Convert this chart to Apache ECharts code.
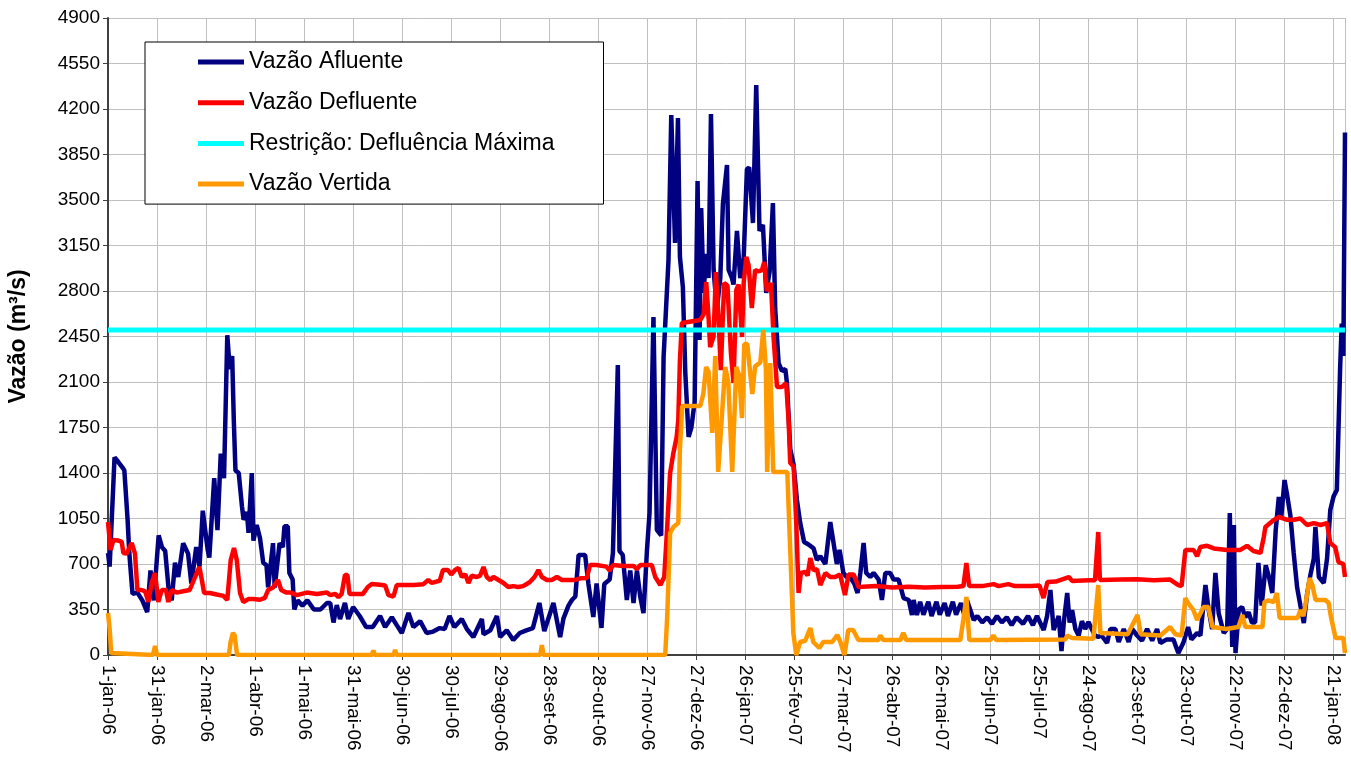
<!DOCTYPE html>
<html>
<head>
<meta charset="utf-8">
<script src="https://cdn.jsdelivr.net/npm/echarts@6/dist/echarts.min.js"></script>
<style>
html,body{margin:0;padding:0;background:#fff;}
#chart{width:1351px;height:779px;}
</style>
</head>
<body>
<div id="chart"></div>
<script>
// x values are days counted from 1-jan-06
const xTickLabels = ['1-jan-06','31-jan-06','2-mar-06','1-abr-06','1-mai-06','31-mai-06','30-jun-06','30-jul-06','29-ago-06','28-set-06','28-out-06','27-nov-06','27-dez-06','26-jan-07','25-fev-07','27-mar-07','26-abr-07','26-mai-07','25-jun-07','25-jul-07','24-ago-07','23-set-07','23-out-07','22-nov-07','22-dez-07','21-jan-08'];
const seriesNames = ['Vazão Afluente','Vazão Defluente','Restrição: Defluência Máxima','Vazão Vertida'];
const lastDay = 757;
const defluenciaMaxima = 2500;

const afluente = [
[0,785],[1,680],[4,1520],[6,1490],[9,1440],[10,1420],[12,1040],[13,790],[15,470],[18,480],[21,420],[24,330],[26,650],[28,420],[31,920],[33,830],[35,800],[37,520],[39,420],[41,710],[43,600],[46,860],[49,780],[51,550],[54,830],[56,680],[58,1110],[61,810],[62,750],[65,1360],[67,960],[69,1550],[71,1360],[73,2460],[74.5,2200],[76,2300],[77,1800],[78,1420],[80,1400],[82,1140],[83,1040],[85,1100],[86,940],[88,1400],[89,880],[91,1000],[93,900],[95,710],[97,690],[98,520],[101,860],[102,520],[105,860],[107,830],[108,990],[110,990],[111,630],[113,580],[114,350],[116,420],[119,380],[122,420],[126,350],[130,350],[134,400],[136,400],[138,250],[140,384],[142,277],[145,400],[147,277],[150,369],[154,300],[158,215],[162,215],[166.5,300],[169.6,215],[173.7,290],[176.7,230],[179.8,169],[183.9,323],[186.9,215],[191,260],[195,169],[199,180],[203,207],[206,200],[209,300],[212,215],[216.5,277],[219.6,200],[223.6,138],[228.8,277],[229.8,160],[234,190],[238,300],[240,138],[244,190],[248,115],[252,169],[256,190],[260,207],[264,400],[267,184],[270,300],[272.6,400],[276.7,138],[278.7,280],[281.8,380],[283.9,423],[286,450],[288,770],[292,770],[294,546],[297,292],[299,550],[302,208],[303.7,546],[307,580],[309,785],[310,800],[312,2231],[313,800],[315,770],[317.5,423],[319.6,650],[321.6,400],[323.7,650],[325.7,450],[327.7,323],[329.8,800],[331.4,1092],[333.8,2600],[335.9,962],[338.5,920],[340,2292],[341,2300],[343,3038],[344.7,4154],[347,3169],[348.8,4131],[350,3062],[351.8,2831],[353.3,2169],[355.3,1677],[357,1750],[359,1946],[360.8,3646],[362,2423],[363,3438],[364.5,2785],[366,3085],[367.5,2900],[369,4162],[370.6,2962],[372.6,2662],[374.7,2900],[376.3,3469],[378.8,3769],[379.8,2962],[381.8,2900],[382.8,2850],[384.9,3262],[386.9,2900],[389,3050],[391,3738],[392.4,3750],[394.7,3323],[396.7,4385],[398.7,3262],[400.8,3308],[402.8,2785],[404.9,2950],[406.9,3477],[408.3,2662],[410.4,2246],[412.4,2185],[414.5,2200],[415.5,2092],[417.5,1585],[419.5,1469],[421.6,1192],[423.6,1015],[426,869],[428.7,850],[431.8,820],[433.8,731],[435.9,760],[439,700],[442,1023],[444,862],[446,700],[447.7,808],[450,631],[452,600],[454,600],[456.7,550],[458.7,477],[460.4,631],[462.4,862],[464,631],[466.5,600],[468.5,631],[471.6,580],[473.6,423],[475.7,631],[478.7,631],[480.8,580],[483.8,580],[486.9,438],[490,423],[492,308],[493,423],[495,308],[497,410],[499,310],[502,410],[504,300],[507,410],[509,310],[512,400],[514,300],[517,410],[519,310],[522,400],[524,310],[525.7,420],[529.8,269],[532,300],[535,250],[538,290],[541,240],[544,300],[547,250],[550,290],[553,230],[556,290],[560,240],[563,300],[566,230],[568.5,300],[572.6,192],[574.7,300],[576.7,500],[578.7,192],[581.8,300],[583.5,30],[584.9,250],[587,477],[588.5,250],[590,346],[592,200],[594,150],[596,260],[598,200],[600,254],[602,200],[604,150],[606,140],[608,150],[611.4,92],[613.4,200],[616.5,200],[618.5,100],[621.6,200],[624.6,100],[626.7,200],[629.8,150],[632.8,110],[635.9,200],[639,110],[642,200],[644,92],[648,120],[652,120],[655,15],[658,92],[661,215],[663,120],[666.5,170],[668.5,150],[671.6,538],[673.6,346],[675.7,200],[677.7,631],[679.7,320],[682.8,169],[684.9,200],[686.5,1092],[688,62],[689,1000],[690,15],[692,350],[694,370],[696,290],[698,330],[700,250],[702,250],[704,708],[706,380],[708.5,690],[710.5,600],[712.5,477],[714.6,962],[716.5,1215],[718,1060],[720,1346],[721.6,1230],[723.6,1070],[725.6,785],[727.7,520],[729.7,380],[731.8,246],[733.8,470],[735.9,620],[737.9,740],[738.9,985],[741,600],[744,554],[746,740],[748,1115],[750,1220],[752,1269],[754,2200],[755,2550],[756,2300],[757,4020]
];

const defluente = [
[0,1023],[1.6,808],[3.3,885],[6.3,880],[8.4,870],[9.4,785],[11.4,780],[14.5,862],[16.5,780],[18,500],[20.6,500],[22.7,490],[24.7,408],[26.7,554],[28.8,631],[30.8,408],[32.9,500],[35.5,500],[36.9,408],[39,500],[42,480],[46,490],[50,500],[53.3,600],[55.9,677],[57.4,580],[58.8,477],[62.4,477],[66.5,465],[70.6,455],[73,423],[75.1,731],[77.1,823],[78.8,731],[80.8,477],[82.8,408],[85.9,430],[88.9,430],[93,425],[96,440],[98,500],[101,520],[104,577],[106,500],[109,480],[112,480],[115.5,461],[121.6,480],[127.8,470],[134,480],[136,461],[139,470],[141,445],[143,470],[145,615],[146.5,615],[147.8,469],[152,470],[156,470],[159,523],[161.4,546],[166.5,540],[169.6,535],[171.6,461],[174.7,450],[176.7,538],[180.8,538],[187,538],[193,545],[196,577],[198,555],[201,565],[203,570],[205,654],[208,654],[210,620],[212.4,654],[214.5,669],[216.5,600],[218.6,620],[220.6,554],[222.6,610],[225.7,600],[227.7,610],[229.8,677],[231.8,600],[233.9,577],[235.9,600],[239,577],[242,554],[245,523],[248,530],[251,523],[254,530],[258,560],[261,600],[263.4,654],[265.5,600],[268.6,577],[271.6,577],[274.7,600],[277.8,577],[281.8,577],[285.9,577],[289,590],[293,592],[295,692],[299,692],[305,680],[307,650],[309,692],[315.5,685],[321.6,685],[323.7,660],[325.7,692],[332.8,692],[334.9,600],[338,538],[340.4,600],[342,938],[344,1400],[346,1554],[348,1677],[349,1808],[350,2269],[351.2,2554],[362.4,2577],[364.5,2620],[366.1,2869],[367.5,2600],[368.5,2369],[370.6,2450],[372,2946],[373.6,2600],[375,2192],[377.1,2862],[379.1,2840],[381.2,2323],[382.8,2092],[384.5,2808],[385.9,2850],[388,2446],[389,2860],[390.6,3062],[392,3000],[394,2669],[396,2962],[398,2950],[400.2,2960],[401.6,3023],[403.2,2800],[405.7,2862],[407.3,2446],[409.4,2062],[412.4,2062],[415,2092],[416.5,1808],[417.5,1477],[419.6,1450],[421.2,1015],[422.6,477],[424,631],[426.7,640],[428.1,610],[429.8,746],[431.8,650],[433.9,660],[435.9,538],[439,630],[442,600],[445,600],[448,620],[451,461],[453.2,620],[456.3,620],[459.3,523],[470,530],[480,520],[490,525],[500,520],[510,523],[520,525],[523.5,530],[525.3,708],[527,530],[535,530],[542,545],[545,530],[551,545],[555,530],[565,530],[570,535],[572.5,438],[574.9,561],[580,565],[588,600],[590,570],[600,575],[604,575],[606,946],[607,577],[620,580],[630,582],[640,575],[650,580],[655,538],[657,530],[659.3,808],[664.4,808],[666.5,760],[668.5,831],[672.6,840],[676.7,820],[684.9,808],[693,808],[697,840],[701,800],[705.3,785],[707.3,908],[708.3,985],[713.4,1038],[716.5,1062],[721.6,1040],[725.6,1040],[729.7,1050],[733.8,1000],[737.9,1015],[742,1000],[746,1015],[748,862],[751,830],[753,715],[756,700],[757,600]
];

const vertida = [
[0,323],[1,200],[2,15],[3,0],[27.5,0],[28.8,70],[30,0],[74,0],[75,100],[76.5,170],[77.5,150],[79,0],[161.5,0],[162.4,35],[163.3,0],[174.8,0],[175.7,40],[176.6,0],[264.5,0],[265.5,77],[266.5,0],[341,0],[342.2,292],[344,938],[346,985],[349,1015],[350,1585],[351.4,1915],[362.4,1915],[364.3,2008],[366,2215],[367.5,2180],[369.8,1708],[371.6,2300],[373.4,1408],[376,1900],[377.7,2215],[379.6,2100],[382,1408],[383.2,1408],[384.5,2215],[386.3,2150],[388,1823],[389.4,2392],[391.2,2392],[394.3,2008],[396,2220],[399.2,2250],[401,2500],[402.6,2200],[403.4,1408],[405.3,2246],[407.1,1408],[415.7,1408],[417.5,808],[419.4,169],[421.2,0],[423.6,100],[426.7,110],[429.8,208],[431.6,100],[435.3,54],[437.7,100],[443.2,100],[446.3,154],[448.2,100],[450.7,0],[453,192],[456,192],[459.2,115],[471.4,115],[472.6,150],[474.5,115],[484.9,115],[486.7,170],[488.5,115],[521.6,115],[523.4,269],[525.3,446],[527.1,115],[540,115],[541.8,150],[543.6,115],[585.9,120],[587,150],[590,131],[603,125],[606,538],[607.3,169],[624,160],[630,308],[632,160],[644,150],[650,215],[653.2,160],[657,150],[659.3,438],[661,400],[664.2,346],[666.5,269],[668.5,320],[670.4,369],[673.4,369],[675.9,215],[684.4,200],[691.8,215],[694.2,308],[696,215],[706.5,215],[707.7,408],[710,420],[713.4,408],[715.3,477],[717,285],[723.6,285],[728,285],[729.7,346],[731.6,300],[734,477],[735.3,592],[737,540],[739,423],[745,423],[747,400],[748.3,300],[749.5,231],[751.2,131],[756,131],[757,15]
];

const restricao = [[0, defluenciaMaxima], [lastDay, defluenciaMaxima]];

const FONT = '"Liberation Sans", Arial, sans-serif';
const chart = echarts.init(document.getElementById('chart'), null, {renderer: 'canvas'});
chart.setOption({
  animation: false,
  backgroundColor: '#ffffff',
  grid: {left: 108, right: 6, top: 18, bottom: 124, containLabel: false, outerBoundsMode: 'none'},
  legend: {
    orient: 'vertical',
    left: 145, top: 42,
    padding: [8.5, 49, 8.5, 53],
    backgroundColor: '#ffffff',
    borderColor: '#000000',
    borderWidth: 1,
    itemWidth: 46, itemHeight: 5, itemGap: 17.7,
    icon: 'rect',
    data: seriesNames,
    textStyle: {fontFamily: FONT, fontSize: 23, color: '#000', lineHeight: 23}
  },
  xAxis: {
    type: 'value',
    min: 0, max: lastDay, interval: 30,
    axisLine: {show: true, onZero: false, lineStyle: {color: '#404040', width: 2}},
    axisTick: {show: true, length: 5, lineStyle: {color: '#404040', width: 1}},
    splitLine: {show: true, lineStyle: {color: '#c0c0c0', width: 1}},
    axisLabel: {
      rotate: -90, margin: 10, color: '#000', fontFamily: FONT, fontSize: 19,
      showMaxLabel: false,
      formatter: function (v) { return (v % 30 === 0) ? (xTickLabels[v / 30] || '') : ''; }
    }
  },
  yAxis: {
    type: 'value',
    min: 0, max: 4900, interval: 350,
    name: 'Vazão (m³/s)',
    nameLocation: 'middle', nameRotate: 90, nameGap: 78,
    nameTextStyle: {fontFamily: FONT, fontSize: 23, fontWeight: 'bold', color: '#000'},
    axisLine: {show: true, lineStyle: {color: '#404040', width: 2}},
    axisTick: {show: true, length: 5, lineStyle: {color: '#404040', width: 1}},
    splitLine: {show: true, lineStyle: {color: '#c0c0c0', width: 1}},
    axisLabel: {color: '#000', fontFamily: FONT, fontSize: 19, margin: 8, formatter: function (v) { return String(v); }}
  },
  series: [
    {name: seriesNames[0], type: 'line', data: afluente, symbol: 'none', color: '#000080', lineStyle: {width: 4.5, color: '#000080'}, z: 2},
    {name: seriesNames[1], type: 'line', data: defluente, symbol: 'none', color: '#ff0000', lineStyle: {width: 4.5, color: '#ff0000'}, z: 3},
    {name: seriesNames[2], type: 'line', data: restricao, symbol: 'none', color: '#00ffff', lineStyle: {width: 5, color: '#00ffff'}, z: 4},
    {name: seriesNames[3], type: 'line', data: vertida, symbol: 'none', color: '#ff9900', lineStyle: {width: 4.5, color: '#ff9900'}, z: 5}
  ]
});
</script>
</body>
</html>
